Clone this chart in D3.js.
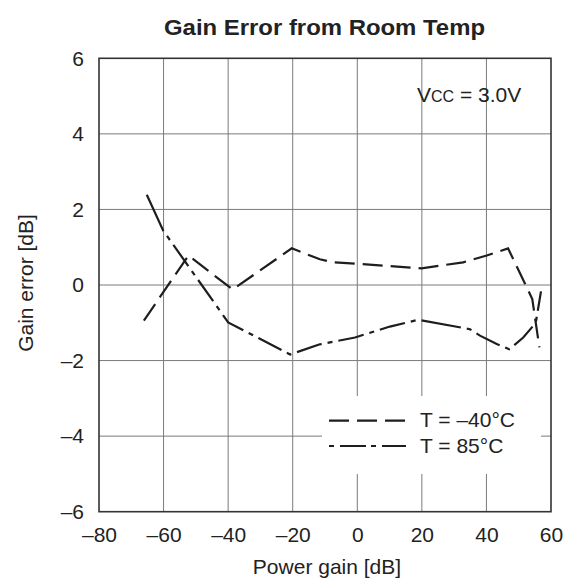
<!DOCTYPE html>
<html>
<head>
<meta charset="utf-8">
<script src="https://cdn.jsdelivr.net/npm/d3@7"></script>
<style>
  html, body { margin: 0; padding: 0; background: #fff; }
  svg { display: block; font-family: "Liberation Sans", Arial, Helvetica, sans-serif; }
</style>
</head>
<body>
<svg id="chart" width="574" height="584"></svg>
<script>
// ---- data ----
const xTicks = [-80, -60, -40, -20, 0, 20, 40, 60];
const yTicks = [-6, -4, -2, 0, 2, 4, 6];

// T = -40°C (dashed)
const gainM40 = [-66.1, -52.3, -38.6, -20.3, -11.6, -7.4, 0.3, 10, 19.9, 32.8, 40.1, 46.7, 54.2, 56.4];
const errM40  = [-0.94, 0.78, -0.12, 0.97, 0.68, 0.6, 0.56, 0.5, 0.44, 0.6, 0.78, 0.97, -0.37, -1.65];

// T = 85°C (dash-dot)
const gain85 = [-65.2, -60.1, -40, -20.8, -11.6, -0.7, 10.1, 18.9, 34.9, 38, 43.2, 47.1, 51.4, 54.3, 55.4, 56.9];
const err85  = [2.39, 1.44, -0.99, -1.84, -1.57, -1.39, -1.1, -0.92, -1.17, -1.34, -1.56, -1.7, -1.39, -1.1, -0.94, -0.17];

const seriesNames = ["T = \u201340\u00B0C", "T = 85\u00B0C"];
const titleText = "Gain Error from Room Temp";
const xLabel = "Power gain [dB]";
const yLabel = "Gain error [dB]";

(function () {
// ---- layout ----
const svg = d3.select("#chart");
const pL = 99, pR = 551, pT = 58.3, pB = 511.7;
const x = d3.scaleLinear().domain([-80, 60]).range([pL, pR]);
const y = d3.scaleLinear().domain([-6, 6]).range([pB, pT]);
const fmt = d => d < 0 ? "\u2013" + Math.abs(d) : String(d);

// gridlines
const grid = svg.append("g").attr("stroke", "#7a7a7a").attr("stroke-width", 1);
grid.selectAll("line.v").data(xTicks.slice(1, -1)).join("line")
  .attr("x1", d => x(d)).attr("x2", d => x(d))
  .attr("y1", pT).attr("y2", pB);
grid.selectAll("line.h").data(yTicks.slice(1, -1)).join("line")
  .attr("y1", d => y(d)).attr("y2", d => y(d))
  .attr("x1", pL).attr("x2", pR);

// legend background (covers grid)
svg.append("rect").attr("x", 322).attr("y", 396).attr("width", 219).attr("height", 78).attr("fill", "#fff");

// plot border
svg.append("rect").attr("x", pL).attr("y", pT)
  .attr("width", pR - pL).attr("height", pB - pT)
  .attr("fill", "none").attr("stroke", "#333").attr("stroke-width", 1.6);

// axes (labels only)
const xAxis = svg.append("g").attr("transform", `translate(0,${pB})`)
  .call(d3.axisBottom(x).tickValues(xTicks).tickFormat(fmt).tickSize(0).tickPadding(15));
const yAxis = svg.append("g").attr("transform", `translate(${pL},0)`)
  .call(d3.axisLeft(y).tickValues(yTicks).tickFormat(fmt).tickSize(0).tickPadding(15));
[xAxis, yAxis].forEach(a => {
  a.select(".domain").remove();
  a.selectAll("text").attr("font-size", 21).attr("fill", "#222")
    .attr("font-family", "'Liberation Sans', Arial, sans-serif");
});

// lines
const line = d3.line().x(d => x(d[0])).y(d => y(d[1]));
const dM40 = gainM40.map((g, i) => [g, errM40[i]]);
const d85 = gain85.map((g, i) => [g, err85[i]]);
const dashM40 = "20,8";
svg.append("path").datum(dM40).attr("d", line)
  .attr("fill", "none").attr("stroke", "#1e1e1e").attr("stroke-width", 2.2)
  .attr("stroke-dasharray", dashM40);
svg.append("path").datum(d85).attr("d", line)
  .attr("fill", "none").attr("stroke", "#1e1e1e").attr("stroke-width", 2.2)
  .attr("stroke-dasharray", "40,6,5,6,26,6,5,6,26,6,5,6,26,6,5,6,26,6,5,6,26,6,5,6,26,6,5,6,26,6,5,6");

// legend
const leg = svg.append("g");
[[dashM40, 420.7, 426.7], ["5,6,26,5", 446, 453.3]].forEach((s, i) => {
  leg.append("line").attr("x1", 329).attr("x2", 406).attr("y1", s[1]).attr("y2", s[1])
    .attr("stroke", "#1e1e1e").attr("stroke-width", 2.2).attr("stroke-dasharray", s[0]);
  leg.append("text").attr("x", 420).attr("y", s[2]).attr("font-size", 21).attr("fill", "#222")
    .text(seriesNames[i]);
});

// Vcc annotation
const vcc = svg.append("text").attr("x", 417).attr("y", 101.5).attr("font-size", 21).attr("fill", "#222");
vcc.append("tspan").text("V");
vcc.append("tspan").attr("font-size", 16).text("CC");
vcc.append("tspan").text(" = 3.0V");

// title
svg.append("text").attr("x", 324.5).attr("y", 35).attr("text-anchor", "middle")
  .attr("font-size", 22).attr("font-weight", "bold").attr("fill", "#222")
  .attr("textLength", 321).attr("lengthAdjust", "spacingAndGlyphs")
  .text(titleText);

// axis titles
svg.append("text").attr("x", 327).attr("y", 574).attr("text-anchor", "middle")
  .attr("font-size", 21).attr("fill", "#222").text(xLabel);
svg.append("text").attr("transform", "translate(33,283) rotate(-90)").attr("text-anchor", "middle")
  .attr("font-size", 21).attr("fill", "#222").text(yLabel);
})();
</script>
</body>
</html>
